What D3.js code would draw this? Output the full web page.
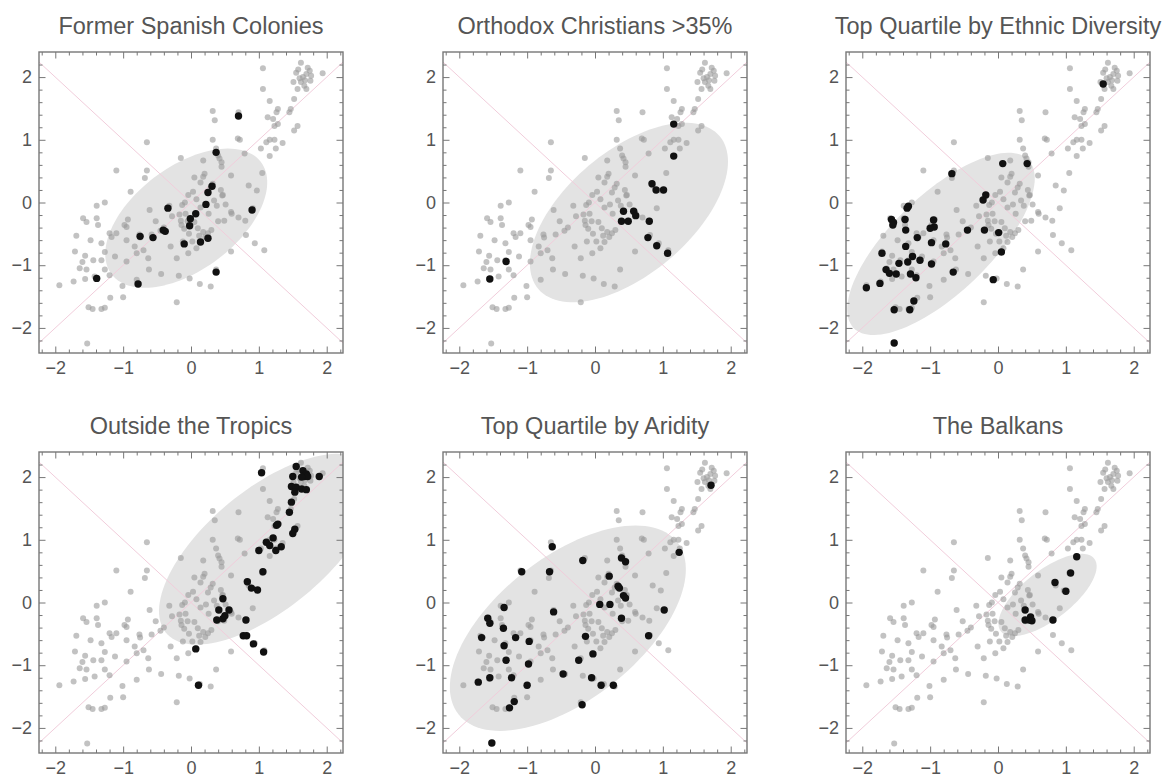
<!DOCTYPE html>
<html lang="en">
<head>
<meta charset="UTF-8">
<title>Panels</title>
<script src="https://d3js.org/d3.v7.min.js"></script>
<style>
  body { margin: 0; background: #fff; font-family: "Liberation Sans", Arial, sans-serif; }
</style>
</head>
<body>
<div id="chart"></div>
<script>
const titles = ["Former Spanish Colonies", "Orthodox Christians >35%", "Top Quartile by Ethnic Diversity",
                "Outside the Tropics", "Top Quartile by Aridity", "The Balkans"];

// all countries (gray)
const population = [
  [1.62,2.23],[1.06,2.14],[1.72,2.15],[1.75,2.10],[1.70,2.05],[1.77,2.02],[1.65,2.00],[1.76,1.94],[1.62,1.92],
  [1.67,1.86],[1.55,2.07],[1.51,1.92],[1.94,2.06],[1.06,1.81],[1.57,1.81],[1.70,1.81],[1.16,1.62],[1.52,1.65],
  [0.32,1.46],[0.70,1.44],[1.28,1.49],[1.26,1.44],[1.21,1.33],[1.13,1.36],[1.47,1.49],[0.35,1.31],[1.28,1.25],
  [1.23,1.22],[1.57,1.22],[1.52,1.15],[0.32,1.00],[0.69,1.02],[0.72,1.00],[1.16,1.00],[1.23,1.00],[0.37,0.86],
  [0.40,0.75],[0.79,0.78],[1.03,0.86],[1.25,0.86],[1.35,0.95],[0.42,0.70],[0.45,0.57],[0.18,0.67],[0.59,0.43],
  [0.20,0.46],[0.18,0.41],[0.32,0.30],[0.03,0.17],[0.44,0.20],[0.47,0.12],
  [0.05,-0.31],[0.10,-0.41],[0.18,-0.47],[0.25,-0.49],[0.30,-0.44],[0.59,-0.15],[0.91,-0.09],[0.81,-0.52],
  [0.94,-0.65],[1.08,-0.76],[0.59,-0.78],[0.08,-0.73],[-0.04,-0.81],[0.37,-1.07],[-0.02,-1.21],[0.13,-1.30],
  [0.29,-1.34],
  [-1.39,-0.05],[-1.27,0.00],[-0.61,-0.12],[-0.32,-0.05],[-0.09,0.00],[-1.59,-0.25],[-1.54,-0.31],[-1.39,-0.25],
  [-1.37,-0.36],[-1.20,-0.49],[-1.17,-0.55],[-0.98,-0.36],[-0.93,-0.27],[-0.95,-0.39],[-1.69,-0.53],[-1.32,-0.65],
  [-1.10,-0.49],[-0.76,-0.51],[-0.75,-0.56],[-0.58,-0.51],[-0.40,-0.40],[-0.17,-0.19],[-0.14,-0.36],[-0.95,-0.60],
  [-0.83,-0.70],[-0.70,-0.76],[-1.71,-0.78],[-1.56,-0.85],[-1.44,-0.92],[-1.32,-0.92],[-1.27,-0.79],[-1.12,-0.86],
  [-0.95,-0.94],[-0.80,-0.81],[-0.63,-0.89],[-1.64,-1.05],[-1.54,-1.07],[-1.27,-1.07],[-1.42,-1.18],[-1.56,-1.22],
  [-1.20,-1.16],[-1.01,-1.33],[-0.80,-1.23],[-0.62,-1.07],[-0.44,-1.14],[-0.21,-0.89],[-0.18,-1.17],[-1.94,-1.32],
  [-1.73,-1.26],[-1.51,-1.67],[-1.32,-1.70],[-1.27,-1.68],[-1.19,-1.52],[-1.00,-1.51],[-0.21,-1.59],[-1.53,-2.25],
  [-0.12,-0.62],
  [-0.65,0.96],[-0.15,0.71],[-1.10,0.51],[-0.65,0.51],[-0.68,0.39],[-0.89,0.17],[-0.04,0.12],
  [0.08,0.05],[-0.13,-0.04],[-0.08,-0.18],[-0.15,-0.29],[-0.10,-0.42],[-0.03,-0.50],[0.12,-0.53],[0.21,-0.55],
  [0.60,-0.18],[0.70,-0.24],[0.14,-0.08],[0.26,-0.18],[0.34,0.03],[0.51,-0.03],[0.46,0.11],[0.29,0.24],[0.14,0.32],
  [0.85,0.27],[0.97,0.19],[1.05,0.47],[1.45,1.44],[1.11,0.96],[1.16,0.74],[0.80,-0.29],[0.40,-0.30],[0.49,-0.29],
  [0.25,0.16],[0.22,-0.03],[0.14,-0.63],[0.45,0.64],
  [-0.45,-0.45],[-0.28,-0.22],[-0.52,-0.30],[0.02,-0.62],[-0.30,-0.70],[1.60,1.98],[1.68,1.95],[1.58,2.12],
  [0.05,0.40],[-0.05,-0.30],[0.38,-0.05],[-1.45,-1.70],[-1.48,-0.60],[-1.60,-0.95]
];

const spanishColonies = [
  [0.70,1.38],[0.37,0.80],[0.31,0.26],[0.25,0.16],[0.22,-0.03],[0.07,-0.18],[-0.01,-0.26],[-0.02,-0.37],
  [-0.34,-0.09],[-0.41,-0.44],[-0.38,-0.46],[-0.56,-0.56],[-0.75,-0.54],[-0.10,-0.66],[0.14,-0.63],[0.25,-0.57],
  [0.90,-0.12],[0.37,-1.11],[-1.39,-1.21],[-0.78,-1.30]
];
const orthodox = [
  [1.16,1.25],[1.16,0.74],[0.84,0.30],[0.90,0.20],[1.01,0.20],[0.42,-0.14],[0.57,-0.14],[0.60,-0.21],
  [0.39,-0.30],[0.49,-0.30],[0.80,-0.30],[0.78,-0.56],[0.91,-0.69],[1.07,-0.81],[-1.31,-0.94],[-1.55,-1.22]
];
const ethnicDiversity = [
  [1.55,1.89],[0.07,0.62],[0.43,0.62],[-0.68,0.46],[-0.18,0.12],[-0.22,0.04],[-1.34,-0.09],[-1.32,-0.06],
  [-1.57,-0.27],[-1.54,-0.32],[-1.55,-0.36],[-1.37,-0.27],[-1.36,-0.44],[-1.19,-0.56],[-1.36,-0.70],[-1.71,-0.81],
  [-1.46,-0.97],[-1.33,-0.95],[-1.26,-0.86],[-1.15,-0.92],[-1.65,-1.07],[-1.60,-1.13],[-1.50,-1.14],[-1.29,-1.14],
  [-1.21,-1.20],[-1.74,-1.29],[-1.94,-1.36],[-1.24,-1.57],[-1.30,-1.71],[-1.53,-1.71],[-1.53,-2.24],[-0.95,-0.28],
  [-0.94,-0.39],[-1.00,-0.41],[-0.98,-0.64],[-0.98,-0.98],[-0.77,-0.66],[-0.66,-1.11],[-0.45,-0.44],[-0.20,-0.44],
  [0.01,-0.48],[0.05,-0.79],[-0.07,-1.23]
];
const outsideTropics = [
  [1.04,2.07],[1.55,2.17],[1.65,2.10],[1.70,2.05],[1.67,2.01],[1.72,2.01],[1.63,2.00],[1.89,2.01],[1.50,2.01],
  [1.48,1.85],[1.55,1.84],[1.63,1.81],[1.70,1.80],[1.53,1.76],[1.48,1.60],[1.45,1.44],[1.26,1.23],[1.28,1.25],
  [1.53,1.17],[1.50,1.10],[1.21,1.03],[1.11,0.96],[1.16,0.91],[1.25,0.83],[1.33,0.89],[1.00,0.83],[1.06,0.49],
  [0.83,0.33],[0.89,0.23],[0.98,0.20],[0.47,0.06],[0.41,-0.12],[0.56,-0.12],[0.38,-0.28],[0.47,-0.26],[0.50,-0.21],
  [0.81,-0.28],[0.77,-0.53],[0.82,-0.53],[0.92,-0.66],[1.07,-0.79],[0.07,-0.74],[0.11,-1.32]
];
const aridity = [
  [1.71,1.87],[1.24,0.80],[-0.63,0.89],[-0.18,0.67],[-1.08,0.49],[-0.67,0.49],[0.39,0.71],[0.45,0.65],
  [0.21,0.42],[0.34,0.26],[0.36,0.23],[0.42,0.11],[0.45,0.07],[0.07,-0.03],[0.22,-0.03],[-0.61,-0.15],
  [-1.34,-0.08],[-1.58,-0.25],[-1.55,-0.33],[0.39,-0.25],[1.02,-0.12],[-1.35,-0.41],[-1.67,-0.56],[-1.17,-0.56],
  [-1.34,-0.69],[-0.97,-0.62],[-0.14,-0.54],[0.79,-0.53],[-1.31,-0.92],[-0.98,-0.98],[-0.03,-0.82],[-0.24,-0.92],
  [-0.47,-1.14],[-1.72,-1.27],[-1.55,-1.20],[-1.23,-1.20],[-1.00,-1.32],[-0.05,-1.20],[0.09,-1.32],[0.27,-1.32],
  [-1.19,-1.58],[-1.26,-1.68],[-0.19,-1.63],[-1.52,-2.24]
];
const balkans = [
  [1.16,0.73],[1.07,0.47],[0.84,0.32],[1.00,0.18],[0.40,-0.12],[0.48,-0.23],[0.46,-0.28],[0.40,-0.28],
  [0.50,-0.29],[0.81,-0.28]
];
const highlights = [spanishColonies, orthodox, ethnicDiversity, outsideTropics, aridity, balkans];

// ellipse per panel: centre, semi-axes, rotation (degrees) in data units
const ellipseCenters = [[-0.07,-0.25],[0.50,-0.16],[-0.84,-0.66],[1.12,0.85],[-0.40,-0.41],[0.73,0.12]];
const ellipseRadii   = [[1.42,0.80],[1.81,0.95],[1.86,0.75],[2.00,0.92],[2.12,1.10],[0.90,0.38]];
const ellipseAngles  = [41, 44, 47, 43, 42, 41];

const majorTicks = [-2, -1, 0, 1, 2];
const minorTicks = [-2.2,-1.8,-1.6,-1.4,-1.2,-0.8,-0.6,-0.4,-0.2,0.2,0.4,0.6,0.8,1.2,1.4,1.6,1.8,2.2];

const width = 1163, height = 780;
const panelW = 304, panelH = 301;
const panelLeft = [39, 443, 846], panelTop = [52, 452];

const svg = d3.select("#chart").append("svg")
  .attr("width", width)
  .attr("height", height);

const x = d3.scaleLinear().domain([-2.24, 2.24]).range([0, panelW]);
const y = d3.scaleLinear().domain([-2.4, 2.4]).range([panelH, 0]);
const fmt = d3.format("d");

titles.forEach((title, i) => {
  const g = svg.append("g")
    .attr("transform", `translate(${panelLeft[i % 3]},${panelTop[Math.floor(i / 3)]})`);

  g.append("clipPath").attr("id", "clip" + i)
    .append("rect").attr("width", panelW).attr("height", panelH);

  const plot = g.append("g").attr("clip-path", `url(#clip${i})`);

  // ellipse
  const [cx, cy] = ellipseCenters[i];
  const [ra, rb] = ellipseRadii[i];
  const th = ellipseAngles[i] * Math.PI / 180;
  const pts = d3.range(0, 361, 3).map(deg => {
    const t = deg * Math.PI / 180;
    return [cx + ra * Math.cos(t) * Math.cos(th) - rb * Math.sin(t) * Math.sin(th),
            cy + ra * Math.cos(t) * Math.sin(th) + rb * Math.sin(t) * Math.cos(th)];
  });
  plot.append("path")
    .attr("d", d3.line().x(d => x(d[0])).y(d => y(d[1]))(pts))
    .attr("fill", "#e3e3e3");

  // diagonals y = x and y = -x
  plot.selectAll(".diag")
    .data([1, -1])
    .join("line")
    .attr("class", "diag")
    .attr("x1", x(-2.24)).attr("y1", s => y(-2.24 * s))
    .attr("x2", x(2.24)).attr("y2", s => y(2.24 * s))
    .attr("stroke", "#f1cddb")
    .attr("stroke-width", 1);

  plot.selectAll(".pop")
    .data(population)
    .join("circle")
    .attr("class", "pop")
    .attr("cx", d => x(d[0]))
    .attr("cy", d => y(d[1]))
    .attr("r", 3)
    .attr("fill", "#999")
    .attr("fill-opacity", 0.6);

  plot.selectAll(".hi")
    .data(highlights[i])
    .join("circle")
    .attr("class", "hi")
    .attr("cx", d => x(d[0]))
    .attr("cy", d => y(d[1]))
    .attr("r", 3.7)
    .attr("fill", "#111");

  // frame ticks on all four sides, pointing inward
  const axes = [
    [d3.axisBottom(x), `translate(0,${panelH})`, true, 8],
    [d3.axisLeft(y), null, true, 7],
    [d3.axisTop(x), null, false, 3],
    [d3.axisRight(y), `translate(${panelW},0)`, false, 3]
  ];
  axes.forEach(([gen, tr, labelled, pad]) => {
    const minor = g.append("g").attr("color", "#777");
    const major = g.append("g").attr("color", "#777");
    if (tr) { minor.attr("transform", tr); major.attr("transform", tr); }
    minor.call(gen.tickValues(minorTicks).tickSize(-3.5).tickSizeOuter(0).tickFormat(""));
    major.call(gen.tickValues(majorTicks).tickSize(-6.5).tickSizeOuter(0)
      .tickPadding(pad)
      .tickFormat(labelled ? fmt : ""));
    minor.select(".domain").remove();
    major.select(".domain").remove();
    major.selectAll("text")
      .attr("fill", "#555")
      .style("font-size", "18px")
      .style("font-family", "'Liberation Sans', Arial, sans-serif");
  });

  g.append("rect")
    .attr("width", panelW)
    .attr("height", panelH)
    .attr("fill", "none")
    .attr("stroke", "#777")
    .attr("stroke-width", 1.4);

  g.append("text")
    .attr("x", panelW / 2)
    .attr("y", -18)
    .attr("text-anchor", "middle")
    .attr("fill", "#555")
    .style("font-size", "23.5px")
    .text(title);
});
</script>
</body>
</html>
